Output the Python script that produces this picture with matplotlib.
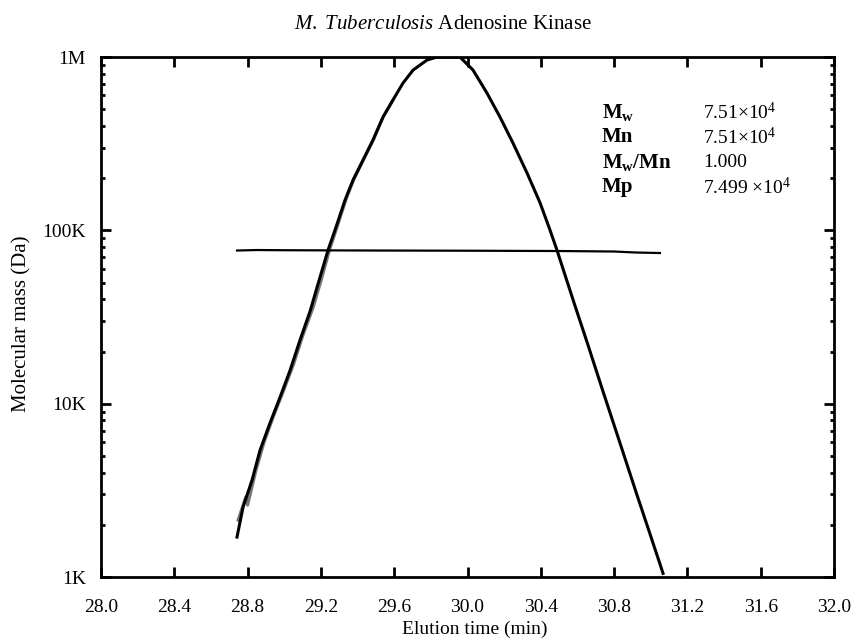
import matplotlib
matplotlib.use('Agg')
import matplotlib.pyplot as plt
from matplotlib.ticker import FixedLocator, LogLocator, NullFormatter

plt.rcParams['font.family'] = 'Liberation Serif'
plt.rcParams['mathtext.fontset'] = 'custom'
plt.rcParams['mathtext.rm'] = 'Liberation Serif'
plt.rcParams['mathtext.bf'] = 'Liberation Serif:bold'
plt.rcParams['mathtext.it'] = 'Liberation Serif:italic'

# elution profile (log mass scale)
peak_time = [28.742, 28.775, 28.824, 28.868, 28.922, 28.977, 29.031, 29.086, 29.141,
             29.184, 29.239, 29.277, 29.332, 29.375, 29.430, 29.484, 29.539, 29.593,
             29.648, 29.703, 29.779, 29.834, 29.959, 30.030, 30.106, 30.177, 30.248,
             30.325, 30.396, 30.450, 30.488, 30.543, 30.587, 30.652, 30.739, 30.832,
             30.925, 30.996, 31.067]
peak_mass = [1700, 2530, 3620, 5400, 7730, 10900, 15500, 23300, 34200,
             49000, 77000, 100500, 150000, 195000, 255000, 332000, 451000, 565000,
             708000, 841000, 961000, 1000000, 1000000, 841000, 620000, 451000, 319000,
             214000, 144000, 100500, 77000, 50900, 36600, 22700, 11800, 5930,
             2970, 1770, 1050]
# second (grey) trace, slightly to the right on the leading edge
grey_time = [28.748, 28.790, 28.800, 28.845, 28.890, 28.942, 28.995, 29.050, 29.103,
             29.158, 29.200, 29.250, 29.285, 29.338, 29.380, 29.434, 29.487, 29.540,
             29.594]
grey_mass = [2130, 2900, 2600, 4100, 6000, 8500, 11800, 16800, 25000,
             36000, 51000, 79000, 102000, 152000, 197000, 257000, 334000, 452000,
             566000]

# molar mass across the peak
mm_time = [28.742, 28.85, 29.0, 29.5, 30.0, 30.5, 30.8, 30.92, 31.05]
mm_mass = [76500, 77000, 76800, 76500, 76300, 76000, 75500, 74500, 74000]

xticks = [28.0, 28.4, 28.8, 29.2, 29.6, 30.0, 30.4, 30.8, 31.2, 31.6, 32.0]
yticks = [1e3, 1e4, 1e5, 1e6]
ylabels = ['1K', '10K', '100K', '1M']

fig = plt.figure(figsize=(8.54, 6.4), dpi=100)
ax = fig.add_axes([0.1183, 0.0984, 0.8583, 0.8125])

ax.plot(grey_time, grey_mass, color='#777777', lw=2.2)
ax.plot(peak_time, peak_mass, color='black', lw=2.2)
ax.plot(mm_time, mm_mass, color='black', lw=1.6)

ax.set_yscale('log')
ax.set_xlim(28.0, 32.0)
ax.set_ylim(1e3, 1e6)
ax.xaxis.set_major_locator(FixedLocator(xticks))
ax.set_xticklabels([f'{t:.1f}' for t in xticks], fontsize=14)
ax.yaxis.set_major_locator(FixedLocator(yticks))
ax.set_yticklabels(ylabels, fontsize=14)
ax.yaxis.set_minor_locator(LogLocator(base=10, subs=range(2, 10)))
ax.yaxis.set_minor_formatter(NullFormatter())
ax.tick_params(which='both', direction='in', top=True, right=True, width=2)
ax.tick_params(which='major', length=7)
ax.tick_params(which='minor', length=3)
ax.tick_params(axis='x', pad=16)
ax.tick_params(axis='y', pad=11)
for s in ax.spines.values():
    s.set_linewidth(2)

fig.text(475 / 854, 0.017, 'Elution time (min)', fontsize=14, ha='center', va='center')
fig.text(22 / 854, 0.494, 'Molecular mass (Da)', fontsize=15, rotation=90,
         ha='center', va='center')
fig.text(0.519, 0.962, r'$\mathit{M.\ Tuberculosis}$ Adenosine Kinase', fontsize=15,
         ha='center', va='center')

# results table
labels = [r'$\mathbf{M}_{\mathbf{w}}$', 'Mn', r'$\mathbf{M}_{\mathbf{w}}$/Mn', 'Mp']
values = [r'7.51$\times$10$^4$', r'7.51$\times$10$^4$', '1.000', r'7.499 $\times$10$^4$']
for i, (lab, val) in enumerate(zip(labels, values)):
    y = 0.894 - i * 0.048
    ax.text(0.683, y, lab, transform=ax.transAxes, fontsize=15, fontweight='bold', va='center')
    ax.text(0.821, y, val, transform=ax.transAxes, fontsize=14, va='center')

fig.savefig('out.png', dpi=100)
